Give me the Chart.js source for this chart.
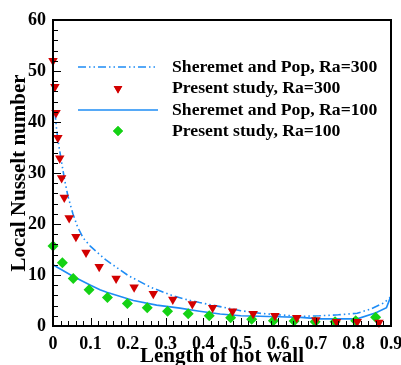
<!DOCTYPE html>
<html>
<head>
<meta charset="utf-8">
<script src="https://cdn.jsdelivr.net/npm/chart.js@4/dist/chart.umd.min.js"></script>
<style>
  html,body{margin:0;padding:0;background:#fff;}
  #wrap{width:401px;height:365px;position:relative;}
</style>
</head>
<body>
<div id="wrap"><canvas id="chart"></canvas></div>
<script>
/* ---------- data ---------- */
// Sheremet and Pop, Ra=300 (dash-dot-dot line)
const sp300X = [0.005,0.009,0.013,0.022,0.031,0.040,0.053,0.065,0.080,0.100,0.140,0.200,0.260,0.320,0.360,0.390,0.445,0.500,0.550,0.600,0.660,0.710,0.760,0.810,0.845,0.880,0.900];
const sp300Y = [42,39,36.5,32.5,28.6,25.4,22,19.5,17.3,15.6,13,9.9,7.6,5.9,5.1,4.6,3.8,3.0,2.5,2.2,1.9,2.0,2.2,2.5,3.3,4.5,5.7];
// Present study, Ra=300 (red triangles)
const ps300X = [0,0.005,0.008,0.013,0.018,0.023,0.030,0.043,0.061,0.088,0.123,0.168,0.216,0.267,0.319,0.371,0.425,0.478,0.533,0.591,0.649,0.700,0.755,0.810,0.868];
const ps300Y = [52,46.9,41.8,36.9,32.9,29,25.2,21.2,17.5,14.4,11.6,9.3,7.6,6.3,5.2,4.3,3.6,2.9,2.4,2.0,1.6,1.2,0.85,0.85,0.7];
// Sheremet and Pop, Ra=100 (solid line)
const sp100X = [0,0.054,0.100,0.125,0.143,0.214,0.276,0.338,0.390,0.445,0.500,0.600,0.660,0.710,0.760,0.810,0.860,0.888,0.900];
const sp100Y = [12,9.7,8,7.1,6.6,5.0,4.1,3.5,2.9,2.35,2.0,1.8,1.7,1.4,1.4,1.4,2.6,3.6,5.9];
// Present study, Ra=100 (green diamonds)
const ps100X = [0,0.025,0.054,0.096,0.145,0.198,0.251,0.305,0.360,0.416,0.473,0.529,0.587,0.642,0.698,0.751,0.806,0.859];
const ps100Y = [15.7,12.4,9.3,7.1,5.6,4.4,3.6,2.9,2.4,2.0,1.6,1.3,1.05,1.0,0.85,0.85,1.05,1.7];

const legendLabels = ['Sheremet and Pop, Ra=300','Present study, Ra=300','Sheremet and Pop, Ra=100','Present study, Ra=100'];
const xTitle = 'Length of hot wall';
const yTitle = 'Local Nusselt number';

const pts = (xs,ys)=>xs.map((x,i)=>({x, y:ys[i]}));

const BLUE = '#1e8cf5', RED = '#d20000', GREEN = '#14d214';
const SERIF = "'Liberation Serif','DejaVu Serif',serif";
const DASH = [8,3,1.5,3,1.5,3];

/* ---------- frame, inside ticks, legend ---------- */
const decor = {
  id:'decor',
  afterDatasetsDraw(chart){
    const {ctx, chartArea:a, scales:{x,y}} = chart;
    ctx.save();
    ctx.strokeStyle = '#000';
    ctx.lineWidth = 1;
    ctx.beginPath();
    for(let i=0;i<=45;i++){
      const px = Math.round(x.getPixelForValue(i*0.02))+0.5;
      const len = i%5===0 ? 8 : 5;
      ctx.moveTo(px,a.bottom); ctx.lineTo(px,a.bottom-len);
    }
    for(let i=0;i<=30;i++){
      const py = Math.round(y.getPixelForValue(i*2))+0.5;
      const len = i%5===0 ? 8 : 5;
      ctx.moveTo(a.left,py); ctx.lineTo(a.left+len,py);
    }
    ctx.stroke();
    ctx.lineWidth = 2;
    ctx.strokeRect(a.left, a.top, a.right-a.left, a.bottom-a.top);

    // legend
    const lx0 = 78, lx1 = 158, tx = 172, rows = [67,88.5,110,131];
    ctx.strokeStyle = BLUE; ctx.lineWidth = 1.6;
    ctx.setLineDash(DASH);
    ctx.beginPath(); ctx.moveTo(lx0,rows[0]); ctx.lineTo(lx1,rows[0]); ctx.stroke();
    ctx.setLineDash([]);
    ctx.beginPath(); ctx.moveTo(lx0,rows[2]); ctx.lineTo(lx1,rows[2]); ctx.stroke();
    ctx.fillStyle = RED;
    Chart.helpers.drawPoint(ctx,{pointStyle:'triangle',radius:5,rotation:180,borderWidth:0}, 118, rows[1]);
    ctx.fill();
    ctx.fillStyle = GREEN;
    Chart.helpers.drawPoint(ctx,{pointStyle:'rectRot',radius:5,rotation:0,borderWidth:0}, 118, rows[3]);
    ctx.fill();
    ctx.fillStyle = '#000';
    ctx.font = 'bold 17.7px ' + SERIF;
    ctx.textBaseline = 'middle';
    legendLabels.forEach((t,i)=>ctx.fillText(t, tx, rows[i]));
    ctx.restore();
  }
};

new Chart(document.getElementById('chart'),{
  type:'line',
  data:{
    datasets:[
      {label:legendLabels[1],data:pts(ps300X,ps300Y),showLine:false,pointStyle:'triangle',pointRotation:180,
       pointRadius:5.5,pointBackgroundColor:RED,pointBorderColor:RED,pointBorderWidth:0,clip:false,order:0},
      {label:legendLabels[3],data:pts(ps100X,ps100Y),showLine:false,pointStyle:'rectRot',
       pointRadius:5.5,pointBackgroundColor:GREEN,pointBorderColor:GREEN,pointBorderWidth:0,clip:false,order:0},
      {label:legendLabels[0],data:pts(sp300X,sp300Y),borderColor:BLUE,borderWidth:1.6,borderDash:DASH,
       pointRadius:0,tension:0,fill:false,order:1},
      {label:legendLabels[2],data:pts(sp100X,sp100Y),borderColor:BLUE,borderWidth:1.6,
       pointRadius:0,tension:0,fill:false,order:1}
    ]
  },
  options:{
    responsive:true,maintainAspectRatio:false,animation:false,
    layout:{padding:{left:0,top:20,right:0,bottom:0}},
    plugins:{legend:{display:false},tooltip:{enabled:false}},
    scales:{
      x:{type:'linear',min:0,max:0.9,
        afterFit:s=>{s.height=39; s.paddingRight=10; s.paddingLeft=0;},
        grid:{display:false,drawTicks:false},border:{display:false},
        ticks:{stepSize:0.1,color:'#000',padding:8,maxRotation:0,font:{family:SERIF,size:18,weight:'bold'},
          callback:v=>v===0?'0':Number(v).toFixed(1)},
        title:{display:true,text:xTitle,color:'#000',padding:{top:0,bottom:-4},font:{family:SERIF,size:21,weight:'bold'}}
      },
      y:{min:0,max:60,
        afterFit:s=>{s.width=53;},
        grid:{display:false,drawTicks:false},border:{display:false},
        ticks:{stepSize:10,color:'#000',padding:7,font:{family:SERIF,size:18,weight:'bold'}},
        title:{display:true,text:yTitle,color:'#000',padding:{top:7,bottom:0},font:{family:SERIF,size:21,weight:'bold'}}
      }
    }
  },
  plugins:[decor]
});
</script>
</body>
</html>
